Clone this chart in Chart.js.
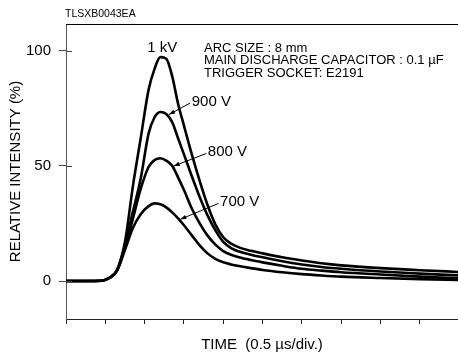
<!DOCTYPE html>
<html>
<head>
<meta charset="utf-8">
<script src="https://cdn.jsdelivr.net/npm/chart.js@4/dist/chart.umd.min.js"></script>
<style>
  html, body { margin: 0; padding: 0; background: #fff; overflow: hidden; }
  #wrap { width: 458px; height: 356px; }
</style>
</head>
<body>
<div id="wrap"><canvas id="pulse" width="458" height="356"></canvas></div>
<script>
// time in divisions (0.5 us/div)
const times = [0, 0.5, 0.9, 1.1, 1.3, 1.5, 1.7, 1.9, 2.1, 2.25, 2.4, 2.55, 2.7, 2.85, 3.0, 3.2, 3.4, 3.6, 3.8, 4.0, 4.2, 4.4, 4.7, 5.0, 5.5, 6.0, 6.5, 7.0, 8.0, 9.0, 10.0];

// relative intensity (%)
const kv1   = [0, 0, 0.1, 1.3, 4.8, 17, 41, 62, 83, 92, 97.2, 96.5, 89, 77, 67.5, 55, 43.5, 33, 24.5, 19, 16.2, 14.6, 13.1, 12, 10.3, 8.9, 7.7, 6.8, 5.6, 4.7, 3.9];
const v900  = [0, 0, 0.1, 1.3, 4.7, 15.5, 30, 44.5, 64, 71, 73.4, 72.5, 69, 62, 55, 45.5, 36.5, 28.5, 22, 17, 14.3, 12.8, 11.4, 10.3, 8.6, 7.2, 6.1, 5.3, 4.1, 3.2, 2.4];
const v800  = [0, 0, 0.1, 1.3, 4.6, 14.5, 27, 40, 49.5, 52.5, 53.3, 52.3, 50, 45, 39.5, 31.5, 25, 19.7, 15.8, 13, 11.4, 10.3, 9.1, 8.1, 6.6, 5.3, 4.5, 3.8, 2.8, 1.9, 1.1];
const v700  = [0, 0, 0.1, 1.3, 4.5, 13.5, 23, 29, 32.5, 33.7, 33.3, 32, 29.8, 27.2, 24.2, 19.8, 15.5, 12, 9.6, 8.1, 7.2, 6.5, 5.6, 4.8, 3.8, 3.0, 2.4, 1.9, 1.3, 0.8, 0.4];

const yTicks = [0, 50, 100];
const xTicks = [0, 1, 2, 3, 4, 5, 6, 7, 8, 9];

// curve labels: text, arrow tip (on curve), arrow tail, in data units
const curveLabels = [
  { text: "1 kV",  at: [2.45, 101.2] },
  { text: "900 V", tip: [2.62, 72.3], tail: [3.16, 77.3] },
  { text: "800 V", tip: [2.74, 49.9], tail: [3.57, 55.4] },
  { text: "700 V", tip: [2.91, 26.8], tail: [3.88, 33.7] }
];

const notes = [
  "ARC SIZE : 8 mm",
  "MAIN DISCHARGE CAPACITOR : 0.1 \u00B5F",
  "TRIGGER SOCKET: E2191"
];

const FONT = "'Liberation Sans', Arial, Helvetica, sans-serif";

function series(vals) {
  return times.map((t, i) => ({ x: t, y: vals[i] }));
}

function curve(vals) {
  return {
    data: series(vals),
    borderColor: "#000",
    borderWidth: 2.6,
    pointRadius: 0,
    cubicInterpolationMode: "monotone",
    borderJoinStyle: "round",
    borderCapStyle: "round",
    fill: false
  };
}

const overlay = {
  id: "overlay",
  afterDraw(chart) {
    const { ctx, chartArea: a, scales: { x, y } } = chart;
    ctx.save();

    // top frame line
    ctx.strokeStyle = "#000";
    ctx.lineWidth = 1;
    ctx.beginPath();
    ctx.moveTo(a.left, a.top + 0.5);
    ctx.lineTo(a.right, a.top + 0.5);
    ctx.stroke();

    // inner half of y ticks
    ctx.strokeStyle = "#444";
    ctx.beginPath();
    y.ticks.forEach(t => {
      const py = Math.round(y.getPixelForValue(t.value)) + 0.5;
      ctx.moveTo(a.left, py);
      ctx.lineTo(a.left + 6, py);
    });
    ctx.stroke();

    // doc code
    ctx.fillStyle = "#000";
    ctx.font = "10.5px " + FONT;
    ctx.textBaseline = "alphabetic";
    ctx.textAlign = "left";
    ctx.fillText("TLSXB0043EA", 65, 16.5);

    // conditions
    ctx.font = "13px " + FONT;
    notes.forEach((s, i) => ctx.fillText(s, 204, 51.5 + i * 12.8));

    // curve labels and arrows
    ctx.font = "15px " + FONT;
    curveLabels.forEach(l => {
      if (l.at) {
        ctx.textAlign = "center";
        ctx.textBaseline = "middle";
        ctx.fillText(l.text, x.getPixelForValue(l.at[0]), y.getPixelForValue(l.at[1]));
        return;
      }
      const tx = x.getPixelForValue(l.tip[0]), ty = y.getPixelForValue(l.tip[1]);
      const sx = x.getPixelForValue(l.tail[0]), sy = y.getPixelForValue(l.tail[1]);
      ctx.strokeStyle = "#000";
      ctx.lineWidth = 1;
      ctx.beginPath();
      ctx.moveTo(sx, sy);
      ctx.lineTo(tx, ty);
      ctx.stroke();
      const ang = Math.atan2(ty - sy, tx - sx);
      const len = 6, wid = 2.2;
      ctx.beginPath();
      ctx.moveTo(tx, ty);
      ctx.lineTo(tx - len * Math.cos(ang) + wid * Math.sin(ang), ty - len * Math.sin(ang) - wid * Math.cos(ang));
      ctx.lineTo(tx - len * Math.cos(ang) - wid * Math.sin(ang), ty - len * Math.sin(ang) + wid * Math.cos(ang));
      ctx.closePath();
      ctx.fill();
      ctx.textAlign = "left";
      ctx.textBaseline = "middle";
      ctx.fillText(l.text, sx + 1.5, sy - 1.5);
    });

    ctx.restore();
  }
};

new Chart(document.getElementById("pulse"), {
  type: "line",
  data: {
    datasets: [curve(kv1), curve(v900), curve(v800), curve(v700)]
  },
  options: {
    responsive: false,
    animation: false,
    events: [],
    layout: { padding: { top: 24, left: 0, right: 0, bottom: 0 } },
    plugins: { legend: { display: false }, tooltip: { enabled: false } },
    scales: {
      x: {
        type: "linear",
        min: 0,
        max: 9.97,
        afterBuildTicks: s => { s.ticks = xTicks.map(v => ({ value: v })); },
        afterFit: s => { s.height = 37; },
        grid: { drawOnChartArea: false, drawTicks: true, tickLength: 5, color: "#222" },
        border: { display: true, color: "#222", width: 1 },
        ticks: { display: false },
        title: {
          display: true,
          text: "TIME  (0.5 \u00B5s/div.)",
          color: "#000",
          font: { family: FONT, size: 15 },
          padding: { top: 0, bottom: 2.5 }
        }
      },
      y: {
        type: "linear",
        min: -16.5,
        max: 111.6,
        afterBuildTicks: s => { s.ticks = yTicks.map(v => ({ value: v })); },
        afterFit: s => { s.width = 66; },
        grid: { drawOnChartArea: false, drawTicks: true, tickLength: 7, color: "#444" },
        border: { display: true, color: "#555", width: 1 },
        ticks: {
          color: "#000",
          padding: 8,
          font: { family: FONT, size: 15 }
        },
        title: {
          display: true,
          text: "RELATIVE INTENSITY (%)",
          color: "#000",
          font: { family: FONT, size: 15 },
          padding: { top: 7, bottom: 0 }
        }
      }
    }
  },
  plugins: [overlay]
});
</script>
</body>
</html>
